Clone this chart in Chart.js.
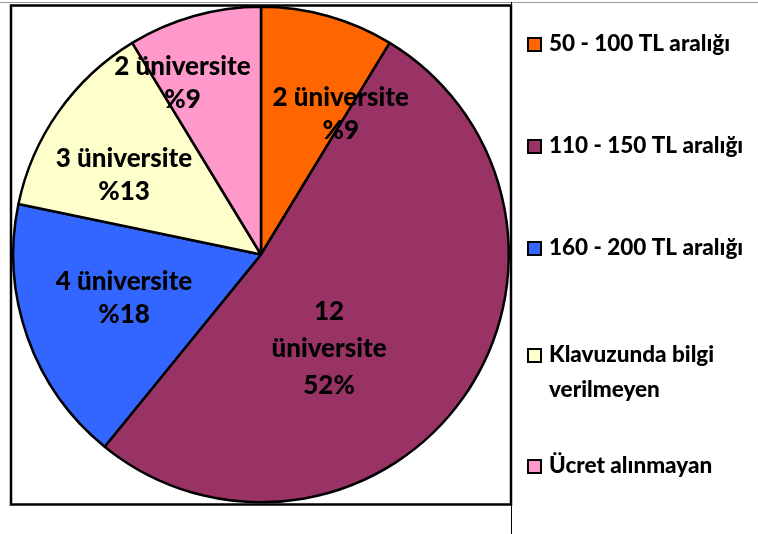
<!DOCTYPE html>
<html>
<head>
<meta charset="utf-8">
<script src="https://cdn.jsdelivr.net/npm/chart.js@4"></script>
<style>
  html, body { margin: 0; padding: 0; background: #fff; }
  #wrap { width: 758px; height: 534px; position: relative; }
</style>
</head>
<body>
<div id="wrap"><canvas id="pie"></canvas></div>
<script>
// Ücret aralıklarına göre üniversite sayıları
const categories = [
  '50 - 100 TL aralığı',
  '110 - 150 TL aralığı',
  '160 - 200 TL aralığı',
  ['Klavuzunda bilgi', 'verilmeyen'],
  'Ücret alınmayan'
];
const universityCounts = [2, 12, 4, 3, 2];
const percentLabels = ['%9', '52%', '%18', '%13', '%9'];
const sliceColors = ['#FF6600', '#993366', '#3366FF', '#FFFFCC', '#FF99CC'];

// etiket yerleşimi: yarıçap oranı ve açı kayması (derece)
const labelPlace = [
  { r: 0.65, da: 14 },
  { r: 0.47, da: 19 },
  { r: 0.58, da: 2 },
  { r: 0.64, da: -5 },
  { r: 0.76, da: -9 }
];

const FONT = 'Lato, "Open Sans", sans-serif';

const framePlugin = {
  id: 'frame',
  beforeDraw(chart) {
    const c = chart.ctx;
    c.save();
    c.strokeStyle = '#999';
    c.lineWidth = 1;
    c.beginPath();
    c.moveTo(0, 2.5); c.lineTo(758, 2.5);
    c.stroke();
    c.strokeStyle = '#000';
    c.beginPath();
    c.moveTo(511.5, 2); c.lineTo(511.5, 534);
    c.stroke();
    c.lineWidth = 2.5;
    c.strokeRect(11, 5.5, 500, 499);
    c.restore();
  }
};

const sliceLabels = {
  id: 'sliceLabels',
  afterDatasetsDraw(chart) {
    const c = chart.ctx;
    const meta = chart.getDatasetMeta(0);
    c.save();
    c.font = '900 26px ' + FONT;
    c.fillStyle = '#000';
    c.textAlign = 'center';
    c.textBaseline = 'middle';
    meta.data.forEach((arc, i) => {
      const p = arc.getProps(['x', 'y', 'startAngle', 'endAngle', 'outerRadius'], true);
      const mid = (p.startAngle + p.endAngle) / 2 + labelPlace[i].da * Math.PI / 180;
      const rr = p.outerRadius * labelPlace[i].r;
      const cx = p.x + Math.cos(mid) * rr;
      const cy = p.y + Math.sin(mid) * rr;
      const n = universityCounts[i];
      const lines = n >= 10
        ? [String(n), 'üniversite', percentLabels[i]]
        : [n + ' üniversite', percentLabels[i]];
      const lh = n >= 10 ? 37 : 33;
      lines.forEach((t, k) => {
        c.fillText(t, cx, cy + (k - (lines.length - 1) / 2) * lh);
      });
    });
    c.restore();
  }
};

const sideLegend = {
  id: 'sideLegend',
  afterDraw(chart) {
    const c = chart.ctx;
    const rows = [44, 146, 248, 355, 466];
    c.save();
    c.font = '900 22.5px ' + FONT;
    c.textBaseline = 'middle';
    c.textAlign = 'left';
    categories.forEach((lab, i) => {
      const y = rows[i];
      c.fillStyle = sliceColors[i];
      c.fillRect(528, y - 6, 13, 13);
      c.strokeStyle = '#000';
      c.lineWidth = 2;
      c.strokeRect(528, y - 6, 13, 13);
      c.fillStyle = '#000';
      const lines = Array.isArray(lab) ? lab : [lab];
      lines.forEach((t, k) => c.fillText(t, 549, y + k * 35));
    });
    c.restore();
  }
};

new Chart(document.getElementById('pie'), {
  type: 'pie',
  data: {
    labels: categories,
    datasets: [{
      data: universityCounts,
      backgroundColor: sliceColors,
      borderColor: '#000',
      borderWidth: 2.5
    }]
  },
  options: {
    responsive: true,
    maintainAspectRatio: false,
    animation: false,
    layout: { padding: { left: 12, right: 248, top: 5, bottom: 30 } },
    plugins: {
      legend: { display: false },
      tooltip: { enabled: false }
    }
  },
  plugins: [framePlugin, sliceLabels, sideLegend]
});
</script>
</body>
</html>
